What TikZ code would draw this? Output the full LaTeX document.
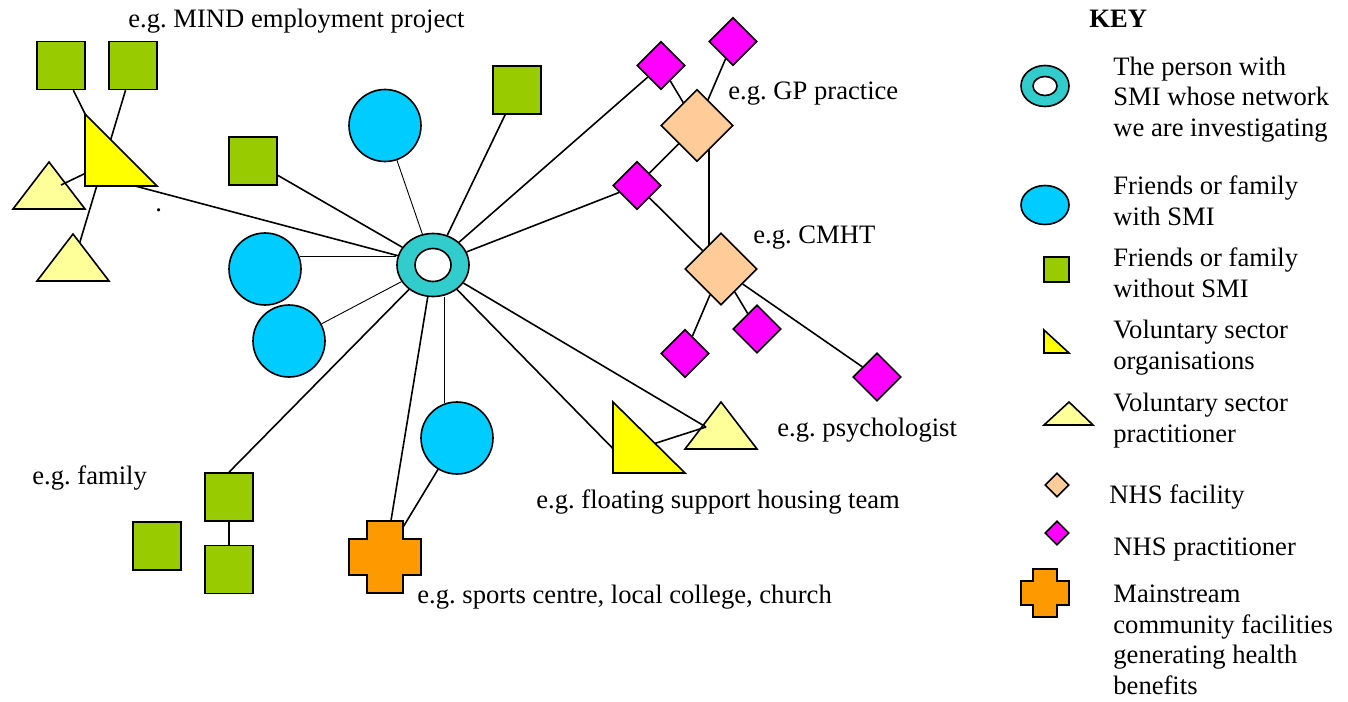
\documentclass[tikz,border=0pt]{standalone}
\usepackage{fontspec}
\setmainfont{Liberation Serif}
\usetikzlibrary{shapes.geometric,backgrounds}
\frenchspacing

\definecolor{smiteal}{HTML}{33CCCC}
\definecolor{smiblue}{HTML}{00CCFF}
\definecolor{famgreen}{HTML}{99CC00}
\definecolor{volorg}{HTML}{FFFF00}
\definecolor{volprac}{HTML}{FFFF99}
\definecolor{nhsfac}{HTML}{FFCC99}
\definecolor{nhsprac}{HTML}{FF00FF}
\definecolor{mainstream}{HTML}{FF9900}

\tikzset{
  shp/.style={draw,line width=0.8pt,inner sep=0pt},
  fam/.style={shp,fill=famgreen,minimum size=24pt},
  friend/.style={shp,circle,fill=smiblue,minimum size=36pt},
  fac/.style={shp,diamond,fill=nhsfac,minimum size=36pt},
  prac/.style={shp,diamond,fill=nhsprac,minimum size=24pt},
  tri/.style={draw,line width=0.8pt,line join=miter},
  lab/.style={anchor=base west,inner sep=0pt,align=left},
  tie/.style={line width=0.8pt},
  faint/.style={line width=0.45pt},
}

\begin{document}
\begin{tikzpicture}[x=0.5pt,y=-0.5pt,font=\fontsize{13.3}{15.25}\selectfont]
  \useasboundingbox (0,0) rectangle (1348,701);

  % the person in the middle
  \node[shp,ellipse,fill=smiteal,minimum width=36pt,minimum height=31.5pt] (me) at (433,265) {};
  \node[shp,ellipse,fill=white,minimum width=18pt,minimum height=16.5pt] (me-in) at (me) {};

  % friends and family
  \node[fam] (tl1) at (61,65.5) {};
  \node[fam] (tl2) at (133,65.5) {};
  \node[fam] (sq1) at (253,161) {};
  \node[fam] (sq2) at (517,90) {};
  \node[fam] (fam1) at (229,497) {};
  \node[fam] (fam2) at (229,569.5) {};
  \node[fam] (fam3) at (157,546) {};
  \node[friend] (tc) at (385,125.5) {};
  \node[friend] (lc1) at (265,269) {};
  \node[friend] (lc2) at (289,341) {};
  \node[friend] (bc) at (457,438) {};

  % NHS
  \node[fac] (gp) at (697,125.5) {};
  \node[fac] (cmht) at (721,269) {};
  \node[prac] (m1) at (661,65.5) {};
  \node[prac] (m2) at (733,41.5) {};
  \node[prac] (m3) at (637,185.5) {};
  \node[prac] (m4) at (685,353.5) {};
  \node[prac] (m5) at (757,329) {};
  \node[prac] (m6) at (877,377) {};

  % points on the triangles and the cross
  \coordinate (bt) at (109,162);
  \coordinate (btb) at (120,182);
  \coordinate (t1) at (61,185);
  \coordinate (t2) at (73,265);
  \coordinate (psy) at (706,427);
  \coordinate (flta) at (630,466);
  \coordinate (fltb) at (650,445);
  \coordinate (plus) at (385,557);

  \begin{scope}[on background layer]
    \draw[tie] (tl1) -- (bt);
    \draw[tie] (tl2) -- (t2);
    \draw[tie] (btb) -- (me);
    \draw[tie] (sq1) -- (me);
    \draw[faint] (tc) -- (me);
    \draw[tie] (sq2) -- (me);
    \draw[tie] (me) -- (m1);
    \draw[tie] (me) -- (m3);
    \draw[faint] (lc1.20) -- (lc1.20 -| me.west);
    \draw[faint] (lc2) -- (me);
    \draw[tie] (fam1.north) -- (me);
    \draw[tie] (fam1) -- (fam2);
    \draw[tie] (me) -- (plus);
    \draw[faint] (bc.110) -- (bc.110 |- me.south);
    \draw[tie] (bc) -- (plus);
    \draw[tie] (me) -- (flta);
    \draw[tie] (m1) -- (gp);
    \draw[tie] (m2) -- (gp);
    \draw[tie] (gp) -- (m3);
    \draw[tie] (m3) -- (cmht);
    \draw[tie] ([xshift=6pt]gp.center) -- ([xshift=-6pt]cmht.center);
    \draw[tie] (cmht) -- (m4);
    \draw[tie] (cmht) -- (m5);
    \draw[tie] (cmht) -- (m6);
  \end{scope}

  % voluntary sector
  \draw[tri,fill=volprac] (13,209) -- (49,162) -- (85,209) -- cycle;
  \draw[tri,fill=volprac] (685,449) -- (721,402) -- (757,449) -- cycle;
  \draw[tie] (bt) -- (t1);
  \draw[tie] (me) -- (psy);
  \draw[tie] (psy) -- (fltb);
  \draw[tri,fill=volorg] (85,114) -- (85,186) -- (157,186) -- cycle;
  \draw[tri,fill=volprac] (37,281) -- (73,234) -- (109,281) -- cycle;
  \draw[tri,fill=volorg] (613,402) -- (613,473) -- (685,473) -- cycle;

  % mainstream facility
  \draw[tri,fill=mainstream] (367,521) -- (403,521) -- (403,539) -- (421,539) -- (421,575) -- (403,575)
    -- (403,593) -- (367,593) -- (367,575) -- (349,575) -- (349,539) -- (367,539) -- cycle;

  % labels
  \node[lab] (t-mind) at (128,28) {e.g. MIND employment project};
  \node[lab] (t-gp) at (728,99) {e.g. GP practice};
  \node[lab] (t-cmht) at (753,243) {e.g. CMHT};
  \node[lab] (t-psy) at (777,436) {e.g. psychologist};
  \node[lab] (t-float) at (536,508) {e.g. floating support housing team};
  \node[lab] (t-sport) at (417,603) {e.g. sports centre, local college, church};
  \node[lab] (t-fam) at (32,484) {e.g. family};
  \node[lab] (t-dot) at (155,211) {.};

  % key (base of a multi-line text is its last line)
  \node[lab] (key) at (1089,28) {\bfseries KEY};
  \node[shp,ellipse,fill=smiteal,minimum width=24pt,minimum height=20.5pt] (k-me) at (1045,86) {};
  \node[shp,ellipse,fill=white,minimum width=12pt,minimum height=9.5pt] (k-me-in) at (k-me) {};
  \node[shp,ellipse,fill=smiblue,minimum width=24pt,minimum height=19.5pt] (k-friend) at (1045,205) {};
  \node[fam,minimum size=12.5pt] (k-fam) at (1056.5,269.5) {};
  \draw[tri,fill=volorg] (1044,330) -- (1044,353) -- (1069,353) -- cycle;
  \draw[tri,fill=volprac] (1044,425) -- (1069,402) -- (1093,425) -- cycle;
  \node[fac,minimum size=12pt] (k-fac) at (1057,485) {};
  \node[prac,minimum size=12pt] (k-prac) at (1057,533) {};
  \draw[tri,fill=mainstream] (1033,569) -- (1057,569) -- (1057,581) -- (1069,581) -- (1069,605) -- (1057,605)
    -- (1057,617) -- (1033,617) -- (1033,605) -- (1021,605) -- (1021,581) -- (1033,581) -- cycle;

  \node[lab] (k-t1) at (1113,136) {The person with\\SMI whose network\\we are investigating};
  \node[lab] (k-t2) at (1113,225) {Friends or family\\with SMI};
  \node[lab] (k-t3) at (1113,297) {Friends or family\\without SMI};
  \node[lab] (k-t4) at (1113,369) {Voluntary sector\\organisations};
  \node[lab] (k-t5) at (1113,442) {Voluntary sector\\practitioner};
  \node[lab] (k-t6) at (1109,503) {NHS facility};
  \node[lab] (k-t7) at (1113,555) {NHS practitioner};
  \node[lab] (k-t8) at (1113,694) {Mainstream\\community facilities\\generating health\\benefits};
\end{tikzpicture}
\end{document}
